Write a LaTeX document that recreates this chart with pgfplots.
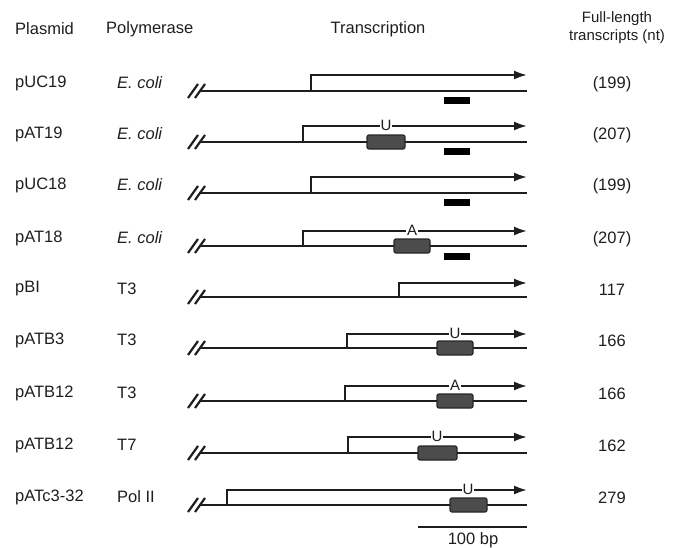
\documentclass[border=0pt]{standalone}
\usepackage{pgfplots}
\pgfplotsset{compat=1.18}
\usepackage{fontspec}
\setmainfont{Liberation Sans}
\usetikzlibrary{arrows.meta}
\definecolor{ink}{HTML}{1E1E1E}
\definecolor{boxgray}{HTML}{4C4C4C}
\begin{document}
\begin{tikzpicture}
\begin{axis}[
  width=673bp, height=547bp, scale only axis,
  xmin=0, xmax=673, ymin=0, ymax=547, y dir=reverse,
  hide axis, clip=false,
  dna/.style={color=ink, line width=2bp, mark=none},
  brk/.style={color=ink, line width=2.2bp, mark=none},
  arr/.style={color=ink, line width=2bp, mark=none, -{Latex[length=13bp,width=9bp]}},
  gbox/.style={fill=boxgray, draw=black!85, line width=1.2bp, rounded corners=2bp, mark=none},
  bbar/.style={fill=black, draw=none, mark=none},
]
\path (rel axis cs:0,0) rectangle (rel axis cs:1,1);
\newcommand{\lbl}{\fontsize{16.5bp}{16.5bp}\selectfont}
\newcommand{\hdr}{\fontsize{15bp}{15bp}\selectfont}
% ---------- headers ----------
\node[anchor=west, text=ink, inner sep=0pt] at (axis cs:15,29) {\lbl Plasmid};
\node[anchor=west, text=ink, inner sep=0pt] at (axis cs:106,29) {\lbl Polymerase};
\node[text=ink, inner sep=0pt] at (axis cs:378,29) {\lbl Transcription};
\node[text=ink, inner sep=0pt] at (axis cs:617,19) {\hdr Full-length};
\node[text=ink, inner sep=0pt] at (axis cs:617,37) {\hdr transcripts (nt)};

% ---------- row labels ----------
\node[anchor=west, inner sep=0pt, text=ink] at (axis cs:15,83) {\lbl pUC19};
\node[anchor=west, inner sep=0pt, text=ink] at (axis cs:15,134) {\lbl pAT19};
\node[anchor=west, inner sep=0pt, text=ink] at (axis cs:15,185) {\lbl pUC18};
\node[anchor=west, inner sep=0pt, text=ink] at (axis cs:15,238) {\lbl pAT18};
\node[anchor=west, inner sep=0pt, text=ink] at (axis cs:15,289) {\lbl pBI};
\node[anchor=west, inner sep=0pt, text=ink] at (axis cs:15,340) {\lbl pATB3};
\node[anchor=west, inner sep=0pt, text=ink] at (axis cs:15,393) {\lbl pATB12};
\node[anchor=west, inner sep=0pt, text=ink] at (axis cs:15,445) {\lbl pATB12};
\node[anchor=west, inner sep=0pt, text=ink] at (axis cs:15,497) {\lbl pATc3-32};

\node[anchor=west, inner sep=0pt, text=ink] at (axis cs:117,83) {\lbl\itshape E. coli};
\node[anchor=west, inner sep=0pt, text=ink] at (axis cs:117,134) {\lbl\itshape E. coli};
\node[anchor=west, inner sep=0pt, text=ink] at (axis cs:117,185) {\lbl\itshape E. coli};
\node[anchor=west, inner sep=0pt, text=ink] at (axis cs:117,238) {\lbl\itshape E. coli};
\node[anchor=west, inner sep=0pt, text=ink] at (axis cs:117,289) {\lbl T3};
\node[anchor=west, inner sep=0pt, text=ink] at (axis cs:117,340) {\lbl T3};
\node[anchor=west, inner sep=0pt, text=ink] at (axis cs:117,393) {\lbl T3};
\node[anchor=west, inner sep=0pt, text=ink] at (axis cs:117,445) {\lbl T7};
\node[anchor=west, inner sep=0pt, text=ink] at (axis cs:117,497) {\lbl Pol II};

\node[inner sep=0pt, text=ink] at (axis cs:612,84) {\lbl (199)};
\node[inner sep=0pt, text=ink] at (axis cs:612,135) {\lbl (207)};
\node[inner sep=0pt, text=ink] at (axis cs:612,186) {\lbl (199)};
\node[inner sep=0pt, text=ink] at (axis cs:612,239) {\lbl (207)};
\node[inner sep=0pt, text=ink] at (axis cs:612,290) {\lbl 117};
\node[inner sep=0pt, text=ink] at (axis cs:612,341) {\lbl 166};
\node[inner sep=0pt, text=ink] at (axis cs:612,394) {\lbl 166};
\node[inner sep=0pt, text=ink] at (axis cs:612,446) {\lbl 162};
\node[inner sep=0pt, text=ink] at (axis cs:612,498) {\lbl 279};

% ---------- DNA lines with break marks ----------
\addplot[dna] coordinates {(200,91) (527,91)};
\addplot[brk] coordinates {(188,98) (198,84)};
\addplot[brk] coordinates {(195,98) (205,84)};
\addplot[dna] coordinates {(200,142) (527,142)};
\addplot[brk] coordinates {(188,149) (198,135)};
\addplot[brk] coordinates {(195,149) (205,135)};
\addplot[dna] coordinates {(200,193) (527,193)};
\addplot[brk] coordinates {(188,200) (198,186)};
\addplot[brk] coordinates {(195,200) (205,186)};
\addplot[dna] coordinates {(200,246) (527,246)};
\addplot[brk] coordinates {(188,253) (198,239)};
\addplot[brk] coordinates {(195,253) (205,239)};
\addplot[dna] coordinates {(200,297) (527,297)};
\addplot[brk] coordinates {(188,304) (198,290)};
\addplot[brk] coordinates {(195,304) (205,290)};
\addplot[dna] coordinates {(200,348) (527,348)};
\addplot[brk] coordinates {(188,355) (198,341)};
\addplot[brk] coordinates {(195,355) (205,341)};
\addplot[dna] coordinates {(200,401) (527,401)};
\addplot[brk] coordinates {(188,408) (198,394)};
\addplot[brk] coordinates {(195,408) (205,394)};
\addplot[dna] coordinates {(200,453) (527,453)};
\addplot[brk] coordinates {(188,460) (198,446)};
\addplot[brk] coordinates {(195,460) (205,446)};
\addplot[dna] coordinates {(200,505) (527,505)};
\addplot[brk] coordinates {(188,512) (198,498)};
\addplot[brk] coordinates {(195,512) (205,498)};

% ---------- transcription arrows ----------
\addplot[arr] coordinates {(311,91) (311,75) (527,75)};
\addplot[arr] coordinates {(303,142) (303,126) (527,126)};
\addplot[arr] coordinates {(311,193) (311,177) (527,177)};
\addplot[arr] coordinates {(303,246) (303,231) (527,231)};
\addplot[arr] coordinates {(399,297) (399,283) (527,283)};
\addplot[arr] coordinates {(347,348) (347,334) (527,334)};
\addplot[arr] coordinates {(345,401) (345,386) (527,386)};
\addplot[arr] coordinates {(348,453) (348,437) (527,437)};
\addplot[arr] coordinates {(227,505) (227,490) (527,490)};

% ---------- gray boxes ----------
\addplot[gbox] coordinates {(367,135) (405,135) (405,149) (367,149)} -- cycle;
\addplot[gbox] coordinates {(394,239) (430,239) (430,253) (394,253)} -- cycle;
\addplot[gbox] coordinates {(437,341) (473,341) (473,355) (437,355)} -- cycle;
\addplot[gbox] coordinates {(437,394) (473,394) (473,408) (437,408)} -- cycle;
\addplot[gbox] coordinates {(418,446) (457,446) (457,460) (418,460)} -- cycle;
\addplot[gbox] coordinates {(450,498) (487,498) (487,512) (450,512)} -- cycle;

% ---------- black bars ----------
\addplot[bbar] coordinates {(444,97) (470,97) (470,104) (444,104)} -- cycle;
\addplot[bbar] coordinates {(444,148) (470,148) (470,155) (444,155)} -- cycle;
\addplot[bbar] coordinates {(444,199) (470,199) (470,206) (444,206)} -- cycle;
\addplot[bbar] coordinates {(444,253) (470,253) (470,260) (444,260)} -- cycle;

% ---------- letters on arrows ----------
\newcommand{\mut}{\fontsize{15bp}{15bp}\selectfont}
\node[fill=white, inner sep=1bp, text=ink] at (axis cs:386,125) {\mut U};
\node[fill=white, inner sep=1bp, text=ink] at (axis cs:412,230) {\mut A};
\node[fill=white, inner sep=1bp, text=ink] at (axis cs:455,333) {\mut U};
\node[fill=white, inner sep=1bp, text=ink] at (axis cs:455,385) {\mut A};
\node[fill=white, inner sep=1bp, text=ink] at (axis cs:437,436) {\mut U};
\node[fill=white, inner sep=1bp, text=ink] at (axis cs:468,489) {\mut U};

% ---------- scale bar ----------
\addplot[dna] coordinates {(418,527) (527,527)};
\node[inner sep=0pt, text=ink] at (axis cs:473,540) {\lbl 100 bp};
\end{axis}
\end{tikzpicture}
\end{document}
